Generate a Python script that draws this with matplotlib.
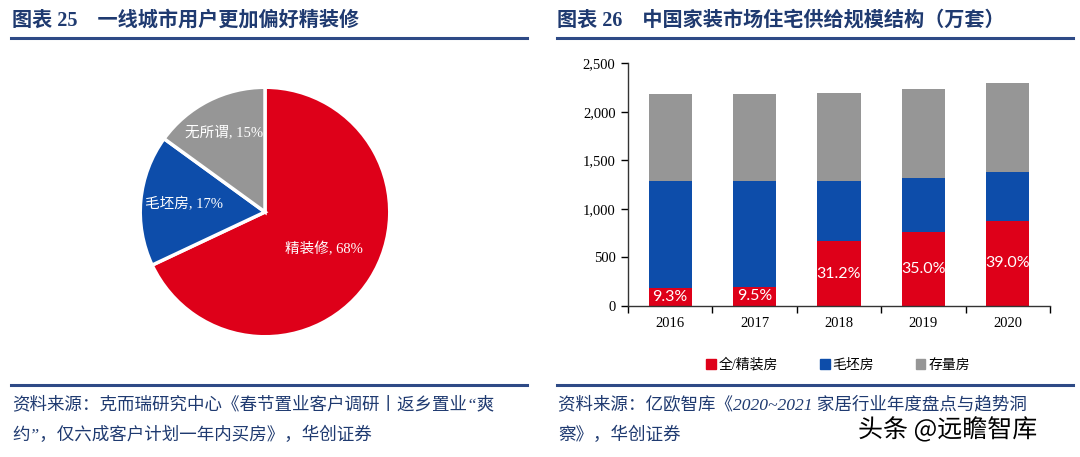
import matplotlib
matplotlib.use("Agg")
import matplotlib.pyplot as plt
import matplotlib.patheffects as pe
from matplotlib.patches import Patch
import numpy as np

# ---------------- data ----------------
pie_labels = ["精装修", "毛坯房", "无所谓"]
pie_values = [68, 17, 15]

years = ["2016", "2017", "2018", "2019", "2020"]
full_decor = [190, 196, 667, 763, 877]      # 全/精装房
rough = [1093, 1087, 616, 557, 502]         # 毛坯房
stock = [902, 902, 907, 912, 921]           # 存量房
pct_labels = ["9.3%", "9.5%", "31.2%", "35.0%", "39.0%"]
series_names = ["全/精装房", "毛坯房", "存量房"]
yticks = [0, 500, 1000, 1500, 2000, 2500]

title_left = "图表 25    一线城市用户更加偏好精装修"
title_right = "图表 26    中国家装市场住宅供给规模结构（万套）"
src_left = ["资料来源：克而瑞研究中心《春节置业客户调研丨返乡置业“爽",
            "约”，仅六成客户计划一年内买房》，华创证券"]
src_right = ["资料来源：亿欧智库《2020~2021 家居行业年度盘点与趋势洞",
             "察》，华创证券"]
watermark = "头条 @远瞻智库"

# ---------------- style ----------------
RED = "#DE0019"
BLUE = "#0D4DAA"
GRAY = "#969696"
NAVY = "#1F3A70"
LINE = "#2E4A86"
CJK = ["Liberation Serif", "Noto Sans CJK SC", "DejaVu Sans"]

W, H = 1080, 457
fig = plt.figure(figsize=(W / 100, H / 100), dpi=100)


def fx(x):
    return x / W


def fy(y):
    return 1 - y / H


# titles and rules
fig.text(fx(12), fy(21), title_left, fontsize=14.5, fontweight="bold",
         color=NAVY, family=CJK, va="center", ha="left")
fig.text(fx(557), fy(21), title_right, fontsize=14.5, fontweight="bold",
         color=NAVY, family=CJK, va="center", ha="left")
for x0, x1 in [(11, 527), (557, 1073)]:
    fig.add_artist(plt.Line2D([fx(x0), fx(x1)], [fy(38), fy(38)],
                              color=LINE, lw=2.2))
    fig.add_artist(plt.Line2D([fx(x0), fx(x1)], [fy(385), fy(385)],
                              color=LINE, lw=2.2))

# sources
for i, s in enumerate(src_left):
    fig.text(fx(12), fy(405 + 30 * i), s, fontsize=12.6, color=NAVY,
             family=CJK, va="center", ha="left", style="italic")
for i, s in enumerate(src_right):
    fig.text(fx(558), fy(405 + 30 * i), s, fontsize=12.6, color=NAVY,
             family=CJK, va="center", ha="left", style="italic")

# ---------------- pie ----------------
cx, cy, size = 265, 212, 262
axp = fig.add_axes([fx(cx - size / 2), fy(cy + size / 2), size / W, size / H])
wedges, _ = axp.pie(pie_values, colors=[RED, BLUE, GRAY], startangle=90,
                    counterclock=False, radius=1,
                    wedgeprops=dict(edgecolor="white", linewidth=2.5))
axp.set_xlim(-1.05, 1.05)
axp.set_ylim(-1.05, 1.05)
axp.axis("off")
label_r = [0.56, 0.65, 0.72]
for w, lab, v, r in zip(wedges, pie_labels, pie_values, label_r):
    ang = np.deg2rad((w.theta1 + w.theta2) / 2)
    axp.text(r * np.cos(ang), r * np.sin(ang), f"{lab}, {v}%",
             ha="center", va="center", color="white", fontsize=10.5,
             family=CJK)

# ---------------- stacked bars ----------------
axb = fig.add_axes([fx(628), fy(306), (1050 - 628) / W, (306 - 63.3) / H])
x = np.arange(len(years))
bw = 0.51
axb.bar(x, full_decor, bw, color=RED, label=series_names[0])
bottom2 = np.array(full_decor)
axb.bar(x, rough, bw, bottom=bottom2, color=BLUE, label=series_names[1])
bottom3 = bottom2 + np.array(rough)
axb.bar(x, stock, bw, bottom=bottom3, color=GRAY, label=series_names[2])

for xi, v, lab in zip(x, full_decor, pct_labels):
    axb.text(xi, v / 2, lab, ha="center", va="center", color="white",
             fontsize=11.5, family=["Lato", "DejaVu Sans"])

axb.set_xlim(-0.5, len(years) - 0.5)
axb.set_ylim(0, 2500)
axb.set_yticks(yticks)
axb.set_yticklabels([f"{v:,}" for v in yticks], family="Liberation Serif",
                    fontsize=10.5)
axb.set_xticks(x)
axb.set_xticklabels(years, family="Liberation Serif", fontsize=10.5)
axb.set_xticks(np.arange(len(years) + 1) - 0.5, minor=True)
axb.tick_params(axis="x", which="major", length=0, pad=8)
axb.tick_params(axis="x", which="minor", length=5, direction="out", width=1)
axb.tick_params(axis="y", length=5, direction="out", width=1, pad=4)
for s in ["top", "right"]:
    axb.spines[s].set_visible(False)
for s in ["left", "bottom"]:
    axb.spines[s].set_linewidth(1)
    axb.spines[s].set_color("#333333")

handles = [Patch(color=c) for c in [RED, BLUE, GRAY]]
fig.legend(handles, series_names, loc="center", bbox_to_anchor=(fx(838), fy(365)),
           ncol=3, frameon=False, prop=dict(family=CJK, size=10),
           handlelength=0.7, handleheight=0.7, handletextpad=0.2,
           columnspacing=3.0)

# watermark
fig.text(fx(858), fy(430), watermark, fontsize=18, color="black",
         family=["Noto Sans CJK SC", "DejaVu Sans"], va="center", ha="left",
         path_effects=[pe.withStroke(linewidth=3, foreground="white")])

fig.savefig("out.png", dpi=100)
